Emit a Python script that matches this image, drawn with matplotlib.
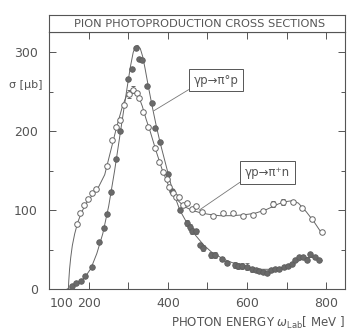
import numpy as np
import matplotlib.pyplot as plt
from matplotlib.ticker import MultipleLocator, FixedLocator, FuncFormatter

# gamma p -> pi0 p (filled points)
pi0_e = [156, 168, 179, 189, 207, 225, 238, 246, 257, 268, 279, 300, 309, 320, 327,
         334, 348, 360, 368, 379, 400, 409, 430, 447, 456, 462, 471, 481, 489, 510,
         519, 538, 550, 570, 578, 588, 600, 612, 623, 631, 641, 650, 660, 671, 682,
         694, 705, 713, 722, 732, 743, 751, 760, 772, 781]
pi0_s = [4, 7, 10, 16.5, 28, 60, 78, 95, 123, 165, 200, 267, 279, 306, 292,
         290, 258, 236, 204, 187, 146, 124, 100, 84, 79, 74, 73, 56, 52, 43,
         43, 38, 33, 30.5, 29, 29, 28.5, 25, 24, 23, 22, 20, 24, 25, 26,
         28, 29, 32, 37, 40, 41, 37, 45, 40, 37]
pi0_err = [0, 0, 0, 0, 0, 0, 0, 0, 0, 0, 0, 0, 0, 0, 0,
           0, 0, 0, 0, 0, 0, 0, 0, 4, 4, 4, 3, 0, 4, 4,
           4, 3, 3, 4, 4, 4, 4, 3, 0, 3, 0, 0, 0, 0, 0,
           0, 0, 0, 0, 0, 0, 0, 0, 0, 0]

# gamma p -> pi+ n (open points)
pip_e = [169, 178, 187, 197, 208, 218, 246, 259, 268, 278, 289, 301, 311, 321, 328,
         338, 350, 367, 378, 388, 397, 403, 412, 420, 429, 439, 449, 460, 471, 485,
         513, 540, 564, 590, 614, 640, 665, 690, 716, 739, 764, 791]
pip_s = [83, 97, 106, 114, 122, 127, 156, 189, 206, 215, 233, 247, 253, 249, 242,
         225, 205, 179, 161, 149, 139, 130, 122, 117, 117, 107, 109, 101, 105, 98,
         93, 96, 97, 93, 94, 99, 108, 110, 111, 103, 89, 72]
pip_err = [0, 0, 0, 0, 0, 0, 0, 0, 0, 0, 0, 5, 5, 0, 0,
           0, 0, 0, 0, 0, 0, 0, 0, 0, 0, 0, 0, 0, 0, 0,
           0, 0, 0, 0, 0, 0, 4, 4, 0, 0, 0, 0]

# theory curves
pi0_curve_e = [145, 160, 175, 190, 205, 220, 235, 250, 265, 280, 295, 305, 312, 318, 324,
               330, 336, 342, 350, 360, 370, 380, 395, 410, 430, 450, 470, 490, 510, 540,
               570, 600, 630, 660, 690, 720, 750, 775, 790]
pi0_curve_s = [0, 3, 8, 15, 26, 45, 70, 105, 150, 200, 250, 282, 300, 308, 309,
               305, 295, 280, 258, 232, 208, 186, 157, 128, 100, 82, 68, 56, 47, 38,
               32, 28, 25, 25, 27, 33, 40, 40, 36]
pip_curve_e = [148, 149, 151, 154, 158, 164, 172, 182, 195, 210, 225, 240, 255, 270, 285,
               295, 303, 310, 318, 326, 335, 345, 355, 370, 385, 400, 420, 440, 460, 480,
               500, 530, 560, 590, 620, 650, 680, 700, 715, 730, 750, 770, 790]
pip_curve_s = [0, 10, 25, 40, 55, 70, 85, 98, 110, 120, 130, 145, 175, 205, 232,
               245, 250, 252, 250, 244, 232, 215, 200, 175, 152, 133, 115, 105, 100, 97,
               95, 93, 93, 94, 96, 101, 108, 111, 112, 109, 98, 85, 70]

x_labels = {100: "100", 200: "200", 400: "400", 600: "600", 800: "800"}

ink = "#555555"
plt.rcParams["font.family"] = "DejaVu Sans"

fig = plt.figure(figsize=(3.47, 3.33), dpi=100)
ax = fig.add_axes([0.1412, 0.1321, 0.853, 0.7718])
ax_t = fig.add_axes([0.1412, 0.9039, 0.853, 0.051])

# title box
ax_t.set_xticks([])
ax_t.set_yticks([])
for s in ax_t.spines.values():
    s.set_color(ink)
    s.set_linewidth(0.8)
ax_t.text(0.51, 0.5, "PION PHOTOPRODUCTION CROSS SECTIONS", ha="center", va="center",
          fontsize=8.2, color=ink, transform=ax_t.transAxes)

# curves
ax.plot(pi0_curve_e, pi0_curve_s, color="#666666", lw=0.7, zorder=1)
ax.plot(pip_curve_e, pip_curve_s, color="#666666", lw=0.7, zorder=1)

# data points
ax.errorbar(pi0_e, pi0_s, yerr=pi0_err, fmt="o", ms=4.0, mfc="#6a6a6a", mec="#5e5e5e",
            mew=0.6, ecolor="#666666", elinewidth=0.6, capsize=1.5, zorder=3)
ax.errorbar(pip_e, pip_s, yerr=pip_err, fmt="o", ms=4.0, mfc="white", mec="#666666",
            mew=0.7, ecolor="#666666", elinewidth=0.6, capsize=1.5, zorder=3)

ax.set_xlim(99, 848)
ax.set_ylim(0, 326)

ax.xaxis.set_major_locator(FixedLocator([100, 200, 300, 400, 500, 600, 700, 800]))
ax.xaxis.set_major_formatter(FuncFormatter(lambda v, p: x_labels.get(int(round(v)), "")))
ax.yaxis.set_major_locator(MultipleLocator(100))
ax.yaxis.set_minor_locator(MultipleLocator(50))
ax.tick_params(axis="both", which="major", direction="in", top=True, right=True,
               length=5, width=0.7, color=ink, labelcolor=ink, labelsize=9)
ax.tick_params(axis="y", which="minor", direction="in", right=True, length=3,
               width=0.7, color=ink)
ax.tick_params(axis="x", pad=6)
ax.tick_params(axis="y", pad=8)
for s in ax.spines.values():
    s.set_color(ink)
    s.set_linewidth(0.8)

# nudge the first x label away from the y axis, as in the original
ax.get_xticklabels()[0].set_x(0)
fig.canvas.draw()
first = ax.xaxis.get_major_ticks()[0].label1
first.set_horizontalalignment("left")

# reaction labels with pointer lines
ax.annotate("γp→π°p", xy=(364, 226), xytext=(522, 265), ha="center", va="center",
            fontsize=8.5, color=ink,
            bbox=dict(boxstyle="square,pad=0.4", fc="white", ec=ink, lw=0.7),
            arrowprops=dict(arrowstyle="-", color="#777777", lw=0.6,
                            shrinkA=0, shrinkB=0, relpos=(0, 0)))
ax.annotate("γp→π⁺n", xy=(479, 100), xytext=(652, 148), ha="center", va="center",
            fontsize=8.5, color=ink,
            bbox=dict(boxstyle="square,pad=0.4", fc="white", ec=ink, lw=0.7),
            arrowprops=dict(arrowstyle="-", color="#777777", lw=0.6,
                            shrinkA=0, shrinkB=0, relpos=(0, 0)))

fig.text(0.075, 0.745, "σ [μb]", ha="center", va="center", fontsize=8, color=ink)
fig.text(0.995, 0.03, r"PHOTON ENERGY $\omega_{\mathrm{Lab}}$[ MeV ]", ha="right",
         va="center", fontsize=8.5, color=ink)

fig.savefig("out.png", dpi=100)
